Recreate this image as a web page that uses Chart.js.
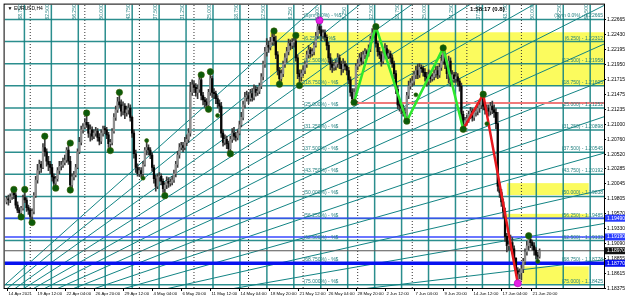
<!DOCTYPE html>
<html>
<head>
<meta charset="utf-8">
<script src="https://cdn.jsdelivr.net/npm/chart.js@4.4.1/dist/chart.umd.min.js"></script>
<style>
  html, body { margin: 0; padding: 0; background: #fff; }
  #wrap { width: 625px; height: 300px; }
</style>
</head>
<body>
<div id="wrap"><canvas id="chart" width="625" height="300"></canvas></div>
<script>
// EURUSD H4, 14 Apr - 22 Jun 2021
const timeLabels = ['14 Apr 2021', '19 Apr 12:00', '22 Apr 04:00', '26 Apr 20:00', '29 Apr 12:00', '4 May 04:00',
  '6 May 20:00', '11 May 12:00', '14 May 04:00', '18 May 20:00', '21 May 12:00', '26 May 04:00', '28 May 20:00',
  '2 Jun 12:00', '7 Jun 04:00', '9 Jun 20:00', '14 Jun 12:00', '17 Jun 04:00', '21 Jun 20:00'];
const barsPerLabel = 16;
const priceTicks = [1.22665, 1.22430, 1.22195, 1.21950, 1.21715, 1.21475, 1.21235, 1.21000, 1.20760, 1.20520,
  1.20285, 1.20045, 1.19805, 1.19570, 1.19330, 1.19090, 1.18855, 1.18615, 1.18375];
const weekStarts = [13, 43, 73, 103, 133, 163, 193, 223, 253, 283];

const firstOpen = 1.1975;
const barClose = [1.1980,
  1.1978, 1.1983, 1.1990, 1.1986, 1.1970, 1.1962,  1.1958, 1.1965, 1.1982, 1.1978, 1.1966, 1.1962,
  1.1952, 1.1960, 1.1985, 1.2010, 1.2025, 1.2035,  1.2030, 1.2062, 1.2055, 1.2040, 1.2035, 1.2030,
  1.2015, 1.2005, 1.2012, 1.2025, 1.2032, 1.2034,  1.2038, 1.2042, 1.2058, 1.2040, 1.2002, 1.2015,
  1.2018, 1.2030, 1.2055, 1.2070, 1.2090, 1.2095,  1.2102, 1.2098, 1.2085, 1.2090, 1.2080, 1.2085,
  1.2088, 1.2078, 1.2072, 1.2085, 1.2092, 1.2090,  1.2082, 1.2068, 1.2070, 1.2088, 1.2110, 1.2122,
  1.2135, 1.2130, 1.2120, 1.2128, 1.2118, 1.2122,  1.2125, 1.2110, 1.2085, 1.2052, 1.2030, 1.2020,
  1.2025, 1.2020, 1.2035, 1.2058, 1.2062, 1.2058,  1.2050, 1.2030, 1.2012, 1.2000, 1.2015, 1.2016,
  1.2008, 1.1996, 1.2002, 1.2008, 1.2005, 1.2006,  1.2010, 1.2020, 1.2035, 1.2050, 1.2062, 1.2065,
  1.2062, 1.2070, 1.2075, 1.2085, 1.2150, 1.2162,  1.2158, 1.2150, 1.2155, 1.2170, 1.2145, 1.2138,
  1.2135, 1.2130, 1.2150, 1.2172, 1.2150, 1.2148,  1.2140, 1.2132, 1.2128, 1.2085, 1.2070, 1.2075,
  1.2068, 1.2060, 1.2075, 1.2085, 1.2080, 1.2078,  1.2085, 1.2098, 1.2110, 1.2130, 1.2142, 1.2145,
  1.2140, 1.2148, 1.2142, 1.2155, 1.2150, 1.2152,  1.2160, 1.2175, 1.2195, 1.2215, 1.2225, 1.2222,
  1.2230, 1.2238, 1.2232, 1.2210, 1.2185, 1.2172,  1.2180, 1.2195, 1.2205, 1.2215, 1.2228, 1.2225,
  1.2230, 1.2232, 1.2205, 1.2180, 1.2175, 1.2180,  1.2185, 1.2195, 1.2210, 1.2218, 1.2212, 1.2215,
  1.2225, 1.2240, 1.2255, 1.2250, 1.2240, 1.2245,  1.2238, 1.2225, 1.2205, 1.2195, 1.2190, 1.2192,
  1.2196, 1.2205, 1.2195, 1.2188, 1.2195, 1.2192,  1.2185, 1.2170, 1.2150, 1.2140, 1.2150, 1.2192,
  1.2195, 1.2205, 1.2200, 1.2210, 1.2215, 1.2212,  1.2220, 1.2235, 1.2245, 1.2248, 1.2228, 1.2215,
  1.2210, 1.2200, 1.2212, 1.2220, 1.2208, 1.2212,  1.2205, 1.2196, 1.2180, 1.2155, 1.2130, 1.2128,
  1.2125, 1.2118, 1.2112, 1.2145, 1.2160, 1.2165,  1.2168, 1.2178, 1.2185, 1.2178, 1.2190, 1.2188,
  1.2182, 1.2175, 1.2168, 1.2178, 1.2172, 1.2175,  1.2180, 1.2185, 1.2178, 1.2190, 1.2200, 1.2212,
  1.2195, 1.2180, 1.2200, 1.2170, 1.2178, 1.2172,  1.2175, 1.2168, 1.2160, 1.2115, 1.2100, 1.2105,
  1.2108, 1.2115, 1.2120, 1.2110, 1.2118, 1.2120,  1.2125, 1.2130, 1.2140, 1.2128, 1.2122, 1.2125,
  1.2120, 1.2128, 1.2122, 1.2118, 1.2100, 1.2000,  1.1990, 1.1975, 1.1960, 1.1920, 1.1905, 1.1905,
  1.1910, 1.1900, 1.1885, 1.1865, 1.1860, 1.1862,  1.1868, 1.1880, 1.1895, 1.1905, 1.1915, 1.1910,
  1.1905, 1.1898, 1.1890, 1.1888, 1.1897];
const barHigh = [1.1984,
  1.1986, 1.1988, 1.1993, 1.1995, 1.1990, 1.1975,  1.1966, 1.1968, 1.1986, 1.1995, 1.1982, 1.1970,
  1.1965, 1.1964, 1.1990, 1.2016, 1.2035, 1.2042,  1.2040, 1.2068, 1.2080, 1.2060, 1.2048, 1.2040,
  1.2035, 1.2020, 1.2016, 1.2030, 1.2040, 1.2040,  1.2045, 1.2050, 1.2062, 1.2069, 1.2048, 1.2020,
  1.2024, 1.2035, 1.2060, 1.2078, 1.2096, 1.2100,  1.2108, 1.2117, 1.2102, 1.2098, 1.2095, 1.2090,
  1.2094, 1.2092, 1.2084, 1.2090, 1.2096, 1.2096,  1.2094, 1.2086, 1.2075, 1.2092, 1.2116, 1.2128,
  1.2142, 1.2150, 1.2138, 1.2135, 1.2132, 1.2128,  1.2132, 1.2130, 1.2112, 1.2090, 1.2058, 1.2036,
  1.2030, 1.2030, 1.2040, 1.2062, 1.2073, 1.2066,  1.2062, 1.2054, 1.2034, 1.2018, 1.2020, 1.2022,
  1.2020, 1.2012, 1.2006, 1.2015, 1.2014, 1.2012,  1.2016, 1.2026, 1.2040, 1.2056, 1.2068, 1.2070,
  1.2070, 1.2078, 1.2082, 1.2092, 1.2166, 1.2170,  1.2168, 1.2164, 1.2162, 1.2176, 1.2178, 1.2150,
  1.2142, 1.2140, 1.2155, 1.2183, 1.2176, 1.2156,  1.2152, 1.2145, 1.2138, 1.2134, 1.2090, 1.2082,
  1.2080, 1.2072, 1.2080, 1.2092, 1.2094, 1.2086,  1.2090, 1.2104, 1.2118, 1.2136, 1.2150, 1.2152,
  1.2150, 1.2155, 1.2156, 1.2162, 1.2160, 1.2158,  1.2165, 1.2180, 1.2200, 1.2222, 1.2236, 1.2232,
  1.2238, 1.2244, 1.2248, 1.2240, 1.2215, 1.2190,  1.2186, 1.2200, 1.2212, 1.2222, 1.2235, 1.2234,
  1.2236, 1.2240, 1.2241, 1.2210, 1.2186, 1.2186,  1.2192, 1.2200, 1.2216, 1.2225, 1.2222, 1.2220,
  1.2230, 1.2246, 1.2260, 1.2265, 1.2256, 1.2250,  1.2250, 1.2242, 1.2230, 1.2212, 1.2202, 1.2198,
  1.2202, 1.2212, 1.2210, 1.2200, 1.2204, 1.2200,  1.2196, 1.2190, 1.2175, 1.2156, 1.2156, 1.2196,
  1.2202, 1.2212, 1.2214, 1.2216, 1.2220, 1.2218,  1.2226, 1.2240, 1.2252, 1.2254, 1.2255, 1.2232,
  1.2222, 1.2215, 1.2218, 1.2228, 1.2225, 1.2218,  1.2216, 1.2210, 1.2200, 1.2185, 1.2160, 1.2138,
  1.2134, 1.2130, 1.2124, 1.2150, 1.2168, 1.2172,  1.2176, 1.2184, 1.2192, 1.2195, 1.2196, 1.2194,
  1.2192, 1.2188, 1.2182, 1.2186, 1.2184, 1.2180,  1.2186, 1.2192, 1.2192, 1.2196, 1.2210, 1.2221,
  1.2215, 1.2200, 1.2208, 1.2205, 1.2185, 1.2182,  1.2182, 1.2180, 1.2172, 1.2165, 1.2120, 1.2110,
  1.2114, 1.2120, 1.2126, 1.2124, 1.2122, 1.2125,  1.2130, 1.2136, 1.2145, 1.2147, 1.2134, 1.2130,
  1.2130, 1.2134, 1.2136, 1.2130, 1.2124, 1.2118,  1.2005, 1.1995, 1.1980, 1.1965, 1.1925, 1.1912,
  1.1922, 1.1918, 1.1905, 1.1886, 1.1870, 1.1868,  1.1874, 1.1885, 1.1900, 1.1912, 1.1921, 1.1918,
  1.1914, 1.1910, 1.1902, 1.1895, 1.1900];
const barLow = [1.1972,
  1.1970, 1.1974, 1.1979, 1.1980, 1.1965, 1.1958,  1.1954, 1.1951, 1.1962, 1.1974, 1.1960, 1.1955,
  1.1946, 1.1942, 1.1956, 1.1982, 1.2005, 1.2020,  1.2022, 1.2028, 1.2048, 1.2032, 1.2025, 1.2020,
  1.2008, 1.2000, 1.1997, 1.2008, 1.2020, 1.2026,  1.2030, 1.2034, 1.2038, 1.2035, 1.1994, 1.1998,
  1.2010, 1.2015, 1.2028, 1.2052, 1.2066, 1.2085,  1.2092, 1.2094, 1.2078, 1.2072, 1.2074, 1.2076,
  1.2080, 1.2072, 1.2066, 1.2068, 1.2080, 1.2084,  1.2076, 1.2062, 1.2057, 1.2066, 1.2085, 1.2105,
  1.2118, 1.2126, 1.2112, 1.2114, 1.2108, 1.2112,  1.2115, 1.2104, 1.2078, 1.2045, 1.2022, 1.2016,
  1.2016, 1.2014, 1.2013, 1.2032, 1.2050, 1.2050,  1.2044, 1.2024, 1.2005, 1.1992, 1.1996, 1.2008,
  1.2002, 1.1990, 1.1985, 1.1996, 1.1998, 1.2000,  1.2002, 1.2006, 1.2015, 1.2030, 1.2045, 1.2058,
  1.2055, 1.2058, 1.2065, 1.2070, 1.2080, 1.2145,  1.2150, 1.2144, 1.2140, 1.2150, 1.2138, 1.2130,
  1.2126, 1.2125, 1.2123, 1.2145, 1.2142, 1.2140,  1.2132, 1.2125, 1.2118, 1.2078, 1.2064, 1.2066,
  1.2060, 1.2054, 1.2052, 1.2070, 1.2074, 1.2072,  1.2074, 1.2082, 1.2095, 1.2106, 1.2125, 1.2136,
  1.2132, 1.2136, 1.2136, 1.2138, 1.2144, 1.2145,  1.2148, 1.2156, 1.2170, 1.2190, 1.2208, 1.2214,
  1.2218, 1.2226, 1.2225, 1.2204, 1.2178, 1.2163,  1.2168, 1.2175, 1.2190, 1.2198, 1.2210, 1.2218,
  1.2220, 1.2222, 1.2200, 1.2172, 1.2161, 1.2168,  1.2176, 1.2180, 1.2190, 1.2205, 1.2206, 1.2208,
  1.2210, 1.2222, 1.2236, 1.2244, 1.2232, 1.2236,  1.2232, 1.2218, 1.2198, 1.2186, 1.2182, 1.2185,
  1.2186, 1.2190, 1.2188, 1.2178, 1.2182, 1.2186,  1.2178, 1.2164, 1.2144, 1.2135, 1.2134, 1.2145,
  1.2186, 1.2192, 1.2194, 1.2196, 1.2204, 1.2206,  1.2208, 1.2215, 1.2230, 1.2238, 1.2222, 1.2208,
  1.2204, 1.2192, 1.2196, 1.2206, 1.2202, 1.2204,  1.2198, 1.2190, 1.2172, 1.2148, 1.2124, 1.2120,
  1.2116, 1.2112, 1.2106, 1.2104, 1.2140, 1.2155,  1.2160, 1.2162, 1.2172, 1.2172, 1.2174, 1.2182,
  1.2176, 1.2168, 1.2160, 1.2162, 1.2166, 1.2168,  1.2170, 1.2174, 1.2172, 1.2174, 1.2185, 1.2195,
  1.2188, 1.2172, 1.2165, 1.2160, 1.2162, 1.2166,  1.2166, 1.2160, 1.2152, 1.2108, 1.2091, 1.2096,
  1.2098, 1.2102, 1.2108, 1.2104, 1.2105, 1.2112,  1.2114, 1.2118, 1.2124, 1.2122, 1.2115, 1.2118,
  1.2112, 1.2114, 1.2116, 1.2110, 1.2092, 1.1992,  1.1982, 1.1968, 1.1950, 1.1912, 1.1895, 1.1898,
  1.1898, 1.1892, 1.1878, 1.1858, 1.1845, 1.1852,  1.1850, 1.1862, 1.1875, 1.1890, 1.1898, 1.1902,
  1.1898, 1.1890, 1.1884, 1.1880, 1.1885];

// swing markers (big / small dots)
const swingBars   = [4, 8, 10, 14, 21, 27, 35, 35, 44, 57, 62, 75, 77, 87, 107, 111, 112, 116, 123,
  147, 150, 159, 161, 191, 203, 220, 225, 240, 251, 262, 264, 287, 292];
const swingPrices = [1.1995, 1.1951, 1.1995, 1.1942, 1.2080, 1.1997, 1.2069, 1.1994, 1.2117, 1.2057, 1.2150,
  1.2013, 1.2073, 1.1985, 1.2178, 1.2123, 1.2183, 1.2113, 1.2052, 1.2248, 1.2163, 1.2241, 1.2161, 1.2134,
  1.2255, 1.2104, 1.2146, 1.2221, 1.2091, 1.2147, 1.2100, 1.1921, 1.1880];
const swingBig    = [1, 1, 1, 1, 1, 1, 1, 1, 1, 1, 1, 0, 0, 1, 1, 1, 1, 0, 1,
  1, 1, 1, 1, 1, 1, 1, 0, 1, 1, 1, 0, 1, 0];
const extremeBars = [172, 281];
const extremePrices = [1.2265, 1.1845];

const greenZigBars = [191, 203, 220, 240, 251];
const greenZigPrices = [1.2134, 1.2255, 1.2104, 1.2221, 1.2091];
const redZigBars = [251, 262, 281];
const redZigPrices = [1.2091, 1.2147, 1.1845];

// fibo levels from the May 25 top
const fibPercent = ['Sym 0.0', '6.250', '12.500', '18.750', '25.000', '31.250', '37.500', '43.750',
  '50.000', '56.250', '62.500', '68.750', '75.000'];
const fibPrices = [1.22665, 1.22312, 1.21958, 1.21605, 1.21252, 1.20898, 1.20545, 1.20192,
  1.19838, 1.19485, 1.19132, 1.18778, 1.18425];
const fibLabelBar = 163.3;

// time grid (same object, vertical steps)
const gannAnchorBar = 172.7;
const gannStepBars = 14.81;
const gannStepsLeft = 11;
const gannStepsRight = 10;

// fan
const fanOriginBar = -34.4;
const fanOriginPrice = 1.17555;
const fanPipsPerBar = [0.19, 0.35, 0.51, 0.66, 0.82, 0.98, 1.14, 1.30, 1.47, 1.65, 1.85, 2.08, 2.34, 2.60];

// zones and horizontal lines
const zones = [
  { from: 144.8, to: 330, top: 1.2246, bottom: 1.21605 },
  { from: 275, to: 320, top: 1.2005, bottom: 1.1986 },
  { from: 275, to: 320, top: 1.1956, bottom: 1.1949 },
  { from: 283.5, to: 320, top: 1.1872, bottom: 1.1844 }
];
const supportPrice = 1.2133;
const supportFromBar = 191;
const bluePrices = [1.1949, 1.1919];
const thickBluePrice = 1.1877;

const xMin = -1.1, xMax = 328.4;
const yMin = 1.18375, yMax = 1.22902;

const bars = barClose.map((c, i) => i);
const opens = barClose.map((c, i) => (i === 0 ? firstOpen : barClose[i - 1]));
const bidPrice = barClose[barClose.length - 1];

const TEAL = 'rgba(20,130,130,0.9)';
const FONT = '"Liberation Sans", Arial, sans-serif';

function line(points, color, width, order, dash) {
    return {
        type: 'line',
        data: points,
        borderColor: color,
        borderWidth: width,
        borderDash: dash || [],
        pointRadius: 0,
        fill: false,
        tension: 0,
        order: order,
        clip: 0
    };
}

const datasets = [];

// swing dots
datasets.push({
    type: 'line',
    showLine: false,
    data: swingBars.map((b, i) => ({ x: b, y: swingPrices[i] })),
    pointRadius: swingBig.map(s => (s ? 3.2 : 2)),
    pointBackgroundColor: '#0b5a0b',
    pointBorderColor: '#3c5f00',
    pointBorderWidth: 0.6,
    order: 0
});
datasets.push({
    type: 'line',
    showLine: false,
    data: extremeBars.map((b, i) => ({ x: b, y: extremePrices[i] })),
    pointRadius: 3.6,
    pointBackgroundColor: '#e41ee4',
    pointBorderColor: '#b000b0',
    pointBorderWidth: 0.6,
    order: 0
});

// zigzags
datasets.push(line(greenZigBars.map((b, i) => ({ x: b, y: greenZigPrices[i] })), '#2ee82e', 2.5, 1));
datasets.push(line(redZigBars.map((b, i) => ({ x: b, y: redZigPrices[i] })), '#e8191e', 2.5, 1));

// candles
datasets.push({
    type: 'bar',
    data: bars.map(i => ({ x: i, y: [barLow[i], barHigh[i]] })),
    backgroundColor: '#3a3a3a',
    barThickness: 1,
    grouped: false,
    order: 3
});
datasets.push({
    type: 'bar',
    data: bars.map(i => ({ x: i, y: [opens[i], barClose[i]] })),
    backgroundColor: bars.map(i => (barClose[i] >= opens[i] ? '#8e8e8e' : '#050505')),
    barThickness: 1.6,
    minBarLength: 1,
    grouped: false,
    order: 2
});

// horizontal lines
datasets.push(line([{ x: supportFromBar, y: supportPrice }, { x: xMax, y: supportPrice }], '#f07a7a', 2, 4));
bluePrices.forEach(p => datasets.push(line([{ x: xMin, y: p }, { x: xMax, y: p }], '#3848ff', 1.3, 4)));
datasets.push(line([{ x: xMin, y: thickBluePrice }, { x: xMax, y: thickBluePrice }], '#0812f0', 3.5, 4));
datasets.push(line([{ x: xMin, y: bidPrice }, { x: xMax, y: bidPrice }], '#555555', 1, 4));
fibPrices.forEach(p => datasets.push(line([{ x: xMin, y: p }, { x: xMax, y: p }], TEAL, 1.5, 5)));

// vertical time grid
const gannBars = [];
for (let k = -gannStepsLeft; k <= gannStepsRight; k++) {
    gannBars.push({ bar: gannAnchorBar + k * gannStepBars, label: (Math.abs(k) * 6.25).toFixed(3) });
}
gannBars.forEach(g => datasets.push(line([{ x: g.bar, y: yMin }, { x: g.bar, y: yMax }], TEAL, 1.5, 5)));

// fan lines
fanPipsPerBar.forEach(s => {
    const endPrice = fanOriginPrice + s * 0.0001 * (xMax - fanOriginBar);
    datasets.push(line([{ x: fanOriginBar, y: fanOriginPrice }, { x: xMax, y: endPrice }], '#128484', 1, 6));
});

// weekly separators
weekStarts.forEach(b => datasets.push(line([{ x: b, y: yMin }, { x: b, y: yMax }], '#333333', 1, 6, [1, 2])));

const mtPlugin = {
    id: 'mt',
    beforeDatasetsDraw(chart) {
        const { ctx, chartArea: a, scales: { x, y } } = chart;
        ctx.save();
        ctx.beginPath();
        ctx.rect(a.left, a.top, a.right - a.left, a.bottom - a.top);
        ctx.clip();
        ctx.fillStyle = '#fbfb5e';
        zones.forEach(z => {
            const x1 = x.getPixelForValue(z.from), x2 = x.getPixelForValue(z.to);
            const y1 = y.getPixelForValue(z.top), y2 = y.getPixelForValue(z.bottom);
            ctx.fillRect(x1, y1, x2 - x1, y2 - y1);
        });
        ctx.restore();
    },
    afterDraw(chart) {
        const { ctx, chartArea: a, scales: { x, y } } = chart;
        ctx.save();

        // frame
        ctx.strokeStyle = '#000';
        ctx.lineWidth = 1;
        ctx.strokeRect(a.left - 0.5, a.top - 0.5, a.right - a.left + 1, a.bottom - a.top + 1);

        // price axis
        ctx.font = '5px ' + FONT;
        ctx.fillStyle = '#000';
        ctx.textAlign = 'left';
        ctx.textBaseline = 'middle';
        priceTicks.forEach(v => {
            const py = Math.round(y.getPixelForValue(v)) + 0.5;
            ctx.beginPath();
            ctx.moveTo(a.right, py);
            ctx.lineTo(a.right + 2, py);
            ctx.stroke();
            ctx.fillText(v.toFixed(5), a.right + 3, py);
        });

        // time axis
        ctx.font = '4.3px ' + FONT;
        timeLabels.forEach((t, k) => {
            const px = Math.round(x.getPixelForValue(k * barsPerLabel)) + 0.5;
            ctx.beginPath();
            ctx.moveTo(px, a.bottom);
            ctx.lineTo(px, a.bottom + 3);
            ctx.stroke();
            ctx.fillText(t, px + 1, a.bottom + 5.5);
        });

        // fibo labels
        ctx.font = '5px ' + FONT;
        ctx.fillStyle = '#217f7f';
        ctx.textBaseline = 'alphabetic';
        const lx = x.getPixelForValue(fibLabelBar);
        fibPrices.forEach((p, k) => {
            const py = y.getPixelForValue(p) - 2;
            ctx.textAlign = 'left';
            ctx.fillText('(' + fibPercent[k] + '%) - %$', lx, py);
            ctx.textAlign = 'right';
            const pct = k === 0 ? fibPercent[k] + '%' : fibPercent[k];
            ctx.fillText('(' + pct + ') - ' + p.toFixed(5), a.right - 1, py);
        });

        // time grid labels, vertical
        ctx.textAlign = 'left';
        ctx.textBaseline = 'bottom';
        gannBars.forEach(g => {
            const px = x.getPixelForValue(g.bar);
            if (px < a.left || px > a.right) return;
            ctx.save();
            ctx.translate(px - 1, a.top + 15);
            ctx.rotate(-Math.PI / 2);
            ctx.fillText(g.label, 0, 0);
            ctx.restore();
        });

        // highlighted price labels
        const tag = (p, bg) => {
            const py = y.getPixelForValue(p);
            ctx.fillStyle = bg;
            ctx.fillRect(a.right + 1, py - 3.5, 21, 7);
            ctx.fillStyle = '#fff';
            ctx.textAlign = 'left';
            ctx.textBaseline = 'middle';
            ctx.fillText(p.toFixed(5), a.right + 3, py);
        };
        bluePrices.forEach(p => tag(p, '#2a3cff'));
        tag(thickBluePrice, '#0812f0');
        tag(bidPrice, '#111');

        // title and timer
        ctx.fillStyle = '#000';
        ctx.textAlign = 'left';
        ctx.textBaseline = 'middle';
        ctx.font = '5px ' + FONT;
        ctx.fillText('\u25BC EURUSD,H4', a.left + 3, a.top + 4.5);
        ctx.font = 'bold 6px ' + FONT;
        ctx.fillText('1:58:17 (0.8)', 470, a.top + 4.5);

        ctx.restore();
    }
};

new Chart(document.getElementById('chart'), {
    type: 'bar',
    data: { datasets: datasets },
    options: {
        responsive: false,
        animation: false,
        devicePixelRatio: 1,
        events: [],
        layout: { padding: { left: 1, top: 1, right: 21, bottom: 12 } },
        plugins: { legend: { display: false }, tooltip: { enabled: false } },
        scales: {
            x: { type: 'linear', min: xMin, max: xMax, offset: false, display: false },
            y: { type: 'linear', min: yMin, max: yMax, display: false }
        }
    },
    plugins: [mtPlugin]
});
</script>
</body>
</html>
